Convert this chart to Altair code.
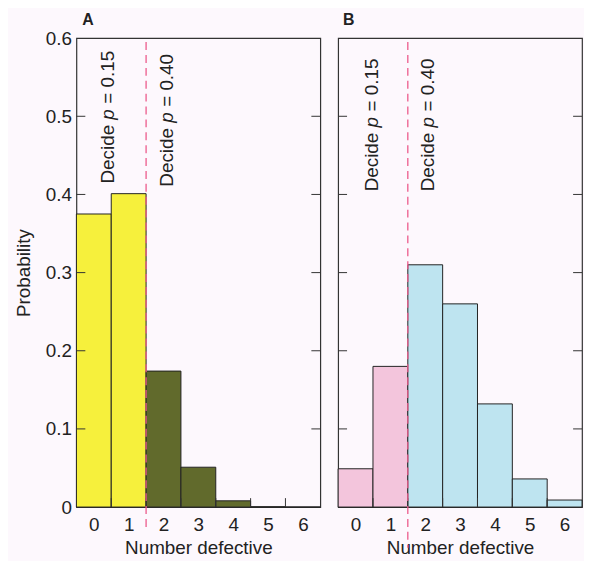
import altair as alt
import pandas as pd

# ---- data ----
counts = [0, 1, 2, 3, 4, 5, 6]
prob_a = [0.375, 0.401, 0.174, 0.051, 0.008, 0.0004, 0.0]   # p = 0.15
prob_b = [0.049, 0.180, 0.310, 0.260, 0.132, 0.036, 0.009]  # p = 0.40
cutoff = 1  # decide p = 0.15 when number defective <= 1
y_ticks = [0, 0.1, 0.2, 0.3, 0.4, 0.5, 0.6]
boundary_ticks = [0.5, 1.5, 2.5, 3.5, 4.5, 5.5]
decision_labels = ["0.15", "0.40"]
ann_x_a = [0.42, 2.09]
ann_y_a = [0.414, 0.410]
ann_x_b = [0.46, 2.08]
ann_y_b = [0.404, 0.404]

W, H = 246, 473
FONT = "Liberation Sans"
FS = 19
TXT = "#222222"

xs = alt.Scale(domain=[-0.5, 6.5], nice=False, zero=False)
ys = alt.Scale(domain=[0, 0.6], nice=False, zero=True)


def panel(probs, colors, ann_x, ann_y, letter, show_y, rule_len, title_dx):
    bars = pd.DataFrame({"k": counts, "p": probs})
    bars["lo"] = bars["k"] - 0.5
    bars["hi"] = bars["k"] + 0.5
    bars["zero"] = 0.0
    bars["side"] = ["0.15" if k <= cutoff else "0.40" for k in counts]

    x_axis = alt.Axis(values=counts, title="Number defective", domain=False,
                      ticks=False, grid=False, labelPadding=9, titlePadding=4,
                      format="d", labelAngle=0)
    if show_y:
        y_axis = alt.Axis(values=y_ticks, title="Probability", domain=False,
                          ticks=False, grid=False, labelPadding=5, titlePadding=12,
                          labelExpr="datum.value == 0 ? '0' : format(datum.value, '.1f')")
    else:
        y_axis = None

    def Y(field):
        if show_y:
            return alt.Y(field, scale=ys)
        return alt.Y(field, scale=ys, axis=None)

    def X(field):
        return alt.X(field, scale=xs)

    bar = alt.Chart(bars).mark_rect(stroke="#222222", strokeWidth=1).encode(
        x=alt.X("lo:Q", scale=xs, axis=x_axis),
        x2="hi:Q",
        y=alt.Y("p:Q", scale=ys, axis=y_axis),
        y2="zero:Q",
        color=alt.Color("side:N", scale=alt.Scale(domain=decision_labels, range=colors), legend=None),
    )

    yt = pd.DataFrame({"v": y_ticks[1:-1]})
    left_ticks = alt.Chart(yt).mark_rule(color="#333333", strokeWidth=1).encode(
        y=Y("v:Q"), x=alt.value(0), x2=alt.value(9))
    right_ticks = alt.Chart(yt).mark_rule(color="#333333", strokeWidth=1).encode(
        y=Y("v:Q"), x=alt.value(W - 9), x2=alt.value(W))
    xt = pd.DataFrame({"b": boundary_ticks})
    bottom_ticks = alt.Chart(xt).mark_rule(color="#333333", strokeWidth=1).encode(
        x=X("b:Q"), y=alt.value(H), y2=alt.value(H - 9))

    cut = pd.DataFrame({"c": [cutoff + 0.5]})
    dashed = alt.Chart(cut).mark_rule(color="#ec5b8b", strokeWidth=1.3, strokeDash=[8, 5]).encode(
        x=X("c:Q"), y=alt.value(4), y2=alt.value(H + rule_len))

    ann = pd.DataFrame({"x": ann_x, "y": ann_y, "eq": ["= " + s for s in decision_labels]})
    tbase = alt.Chart(ann)
    enc = dict(x=X("x:Q"), y=Y("y:Q"))
    t1 = tbase.mark_text(angle=270, align="left", baseline="middle", font=FONT,
                         fontSize=FS, color=TXT).encode(text=alt.value("Decide"), **enc)
    t2 = tbase.mark_text(angle=270, align="left", baseline="middle", font=FONT,
                         fontSize=FS, fontStyle="italic", color=TXT, dx=64.4).encode(
        text=alt.value("p"), **enc)
    t3 = tbase.mark_text(angle=270, align="left", baseline="middle", font=FONT,
                         fontSize=FS, color=TXT, dx=80.5).encode(text="eq:N", **enc)

    head = pd.DataFrame({"letter": [letter]})
    title = alt.Chart(head).mark_text(align="left", baseline="alphabetic", font=FONT,
                                      fontSize=16, fontWeight="bold", color=TXT).encode(
        text="letter:N", x=alt.value(title_dx), y=alt.value(-13))

    return alt.layer(bar, bottom_ticks, left_ticks, right_ticks, dashed, t1, t2, t3, title).properties(
        width=W, height=H,
    )


pa = panel(prob_a, ["#f6f03c", "#616a2c"], ann_x_a, ann_y_a, "A", True, 22, 6)
pb = panel(prob_b, ["#f3c5dc", "#bee4f0"], ann_x_b, ann_y_b, "B", False, 41, 5)

chart = alt.hconcat(pa, pb, spacing=14).resolve_scale(
    color="independent", x="independent", y="independent"
).properties(
    background="#fdf8fd",
    padding={"left": 5, "top": 1, "right": 0, "bottom": 0},
).configure_view(
    stroke="#333333", strokeWidth=1.2
).configure_axis(
    labelFont=FONT, titleFont=FONT, labelFontSize=FS, titleFontSize=FS,
    labelColor=TXT, titleColor=TXT, titleFontWeight="normal"
)

chart.save("out.html", embed_options={"renderer": "svg", "actions": False})
